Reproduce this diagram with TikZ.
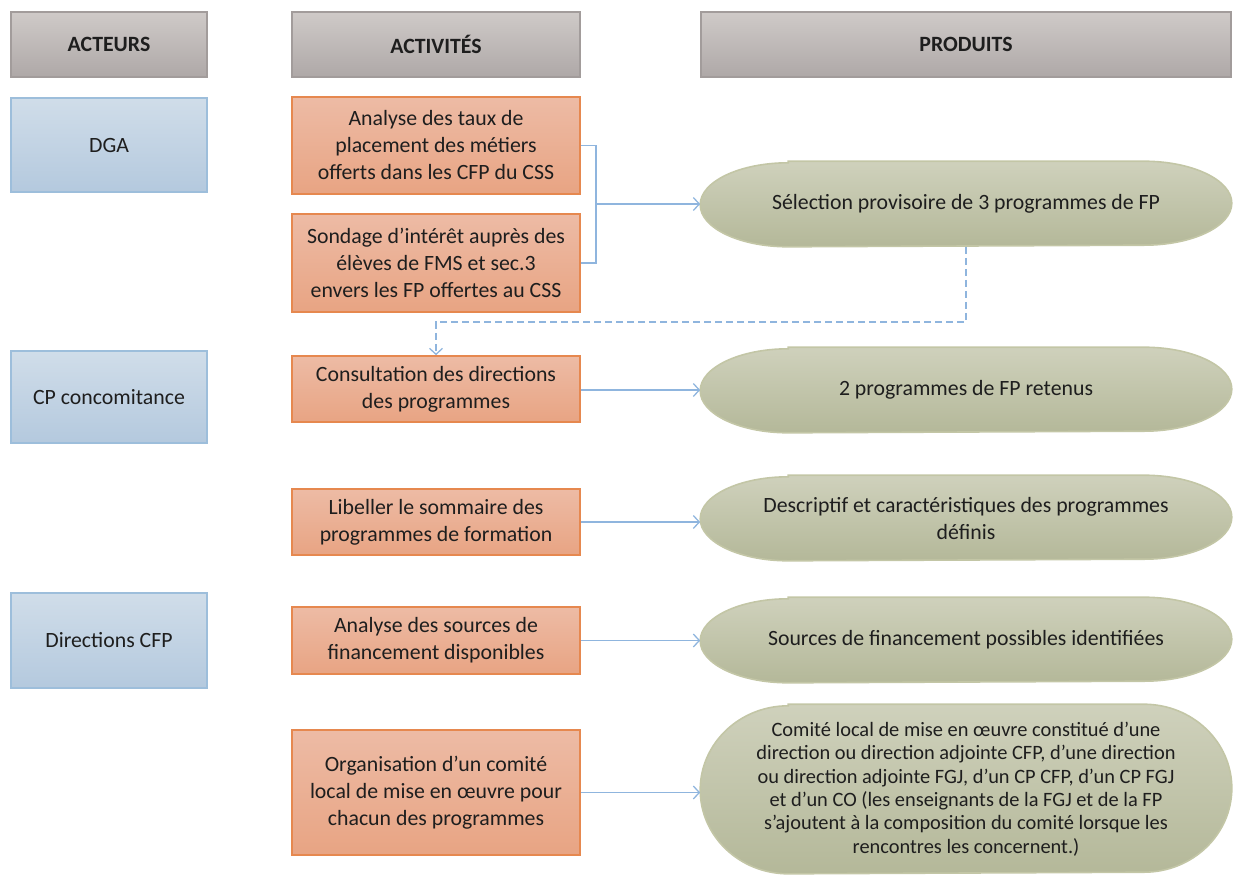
\documentclass[tikz,border=0pt]{standalone}
\usepackage{fontspec}
\setmainfont{Carlito}
\usetikzlibrary{arrows.meta}
\pgfdeclarelayer{background}
\pgfsetlayers{background,main}

\definecolor{hdrTop}{HTML}{CFCAC8}
\definecolor{hdrBot}{HTML}{AEA8A7}
\definecolor{hdrLine}{HTML}{A29C9B}
\definecolor{actTop}{HTML}{D0DDE9}
\definecolor{actBot}{HTML}{B4C9DE}
\definecolor{actLine}{HTML}{9DBEDB}
\definecolor{taskTop}{HTML}{EDBBA5}
\definecolor{taskBot}{HTML}{E8A483}
\definecolor{taskLine}{HTML}{E6884F}
\definecolor{prodTop}{HTML}{CFD1BC}
\definecolor{prodBot}{HTML}{B4B899}
\definecolor{prodLine}{HTML}{C3C6A6}
\definecolor{link}{HTML}{8FB5DE}
\definecolor{ink}{HTML}{1E1E1E}

\tikzset{
  x=1pt, y=1pt,
  base/.style={inner sep=0pt, align=center, text=ink,
    font=\fontsize{21.8}{27}\selectfont, line width=1.6pt},
  hdr/.style={base, draw=hdrLine, top color=hdrTop, bottom color=hdrBot,
    font=\fontsize{21.8}{27}\selectfont\bfseries, minimum height=65pt},
  actor/.style={base, draw=actLine, top color=actTop, bottom color=actBot,
    minimum width=196pt},
  task/.style={base, draw=taskLine, top color=taskTop, bottom color=taskBot,
    minimum width=288pt},
  prod/.style={base, minimum width=530pt},
  prodfill/.style={draw=prodLine, line width=1.6pt,
    top color=prodTop, bottom color=prodBot},
  conn/.style={draw=link, line width=1.5pt},
  tip/.style={-{Straight Barb[length=6pt,width=13pt,line width=1.3pt]}}
}

% oval outline behind a product node: #1 node name, #2 half height
\newcommand\prodoval[2]{%
  \begin{pgfonlayer}{background}
    \path[prodfill] ([xshift=88pt]#1.north west) -- ([xshift=-88pt]#1.north east)
      arc[start angle=90, end angle=-90, x radius=88pt, y radius=#2pt]
      -- ([xshift=88pt]#1.south west)
      arc[start angle=270, end angle=90, x radius=88pt, y radius=#2pt] -- cycle;
  \end{pgfonlayer}}

\begin{document}
\begin{tikzpicture}
\useasboundingbox (0,0) rectangle (1233,-876);

% column headers
\node[hdr, minimum width=196pt] (hA) at (109,-44.5) {ACTEURS};
\node[hdr, minimum width=288pt] (hB) at (436,-44.5) {ACTIVITÉS};
\node[hdr, minimum width=530pt] (hC) at (966,-44.5) {PRODUITS};

% actors
\node[actor, minimum height=94pt] (dga) at (109,-145) {DGA};
\node[actor, minimum height=92pt] (cpc) at (109,-397) {CP concomitance};
\node[actor, minimum height=95pt] (dir) at (109,-640.5) {Directions CFP};

% activities
\node[task, minimum height=97pt] (a1) at (436,-145.5)
  {Analyse des taux de\\placement des métiers\\offerts dans les CFP du CSS};
\node[task, minimum height=98pt] (a2) at (436,-263)
  {Sondage d’intérêt auprès des\\élèves de FMS et sec.3\\envers les FP offertes au CSS};
\node[task, minimum height=66pt] (a3) at (436,-389)
  {Consultation des directions\\des programmes};
\node[task, minimum height=66pt] (a4) at (436,-522)
  {Libeller le sommaire des\\programmes de formation};
\node[task, minimum height=67pt] (a5) at (436,-640.5)
  {Analyse des sources de\\financement disponibles};
\node[task, minimum height=125pt] (a6) at (436,-792.5)
  {Organisation d’un comité\\local de mise en œuvre pour\\chacun des programmes};

% products
\node[prod, minimum height=84pt] (p1) at (966,-204)
  {Sélection provisoire de 3 programmes de FP};
\prodoval{p1}{42}
\node[prod, minimum height=84pt] (p2) at (966,-390)
  {2 programmes de FP retenus};
\prodoval{p2}{42}
\node[prod, minimum height=84pt] (p3) at (966,-518)
  {Descriptif et caractéristiques des programmes\\définis};
\prodoval{p3}{42}
\node[prod, minimum height=84pt] (p4) at (966,-640)
  {Sources de financement possibles identifiées};
\prodoval{p4}{42}
\node[prod, minimum height=168pt, font=\fontsize{20.4}{23.3}\selectfont] (p5) at (966,-789)
  {Comité local de mise en œuvre constitué d’une\\direction ou direction adjointe CFP, d’une direction\\ou direction adjointe FGJ, d’un CP CFP, d’un CP FGJ\\et d’un CO (les enseignants de la FGJ et de la FP\\s’ajoutent à la composition du comité lorsque les\\rencontres les concernent.)};
\prodoval{p5}{84}

% connectors
\coordinate (j) at (596,-204);
\draw[conn] (a1.east) -| (j) |- (a2.east);
\draw[conn, tip] (j) -- (p1.west);
\coordinate (d) at (966,-322);
\draw[conn, tip, dashed, dash pattern=on 7pt off 4pt] (p1.south) -- (d) -| (a3.north);
\draw[conn, tip] (a3.east |- p2.west) -- (p2.west);
\draw[conn, tip] (a4.east) -- (p3.west |- a4.east);
\draw[conn, tip] (a5.east) -- (p4.west |- a5.east);
\draw[conn, tip] (a6.east) -- (p5.west |- a6.east);
\end{tikzpicture}
\end{document}
